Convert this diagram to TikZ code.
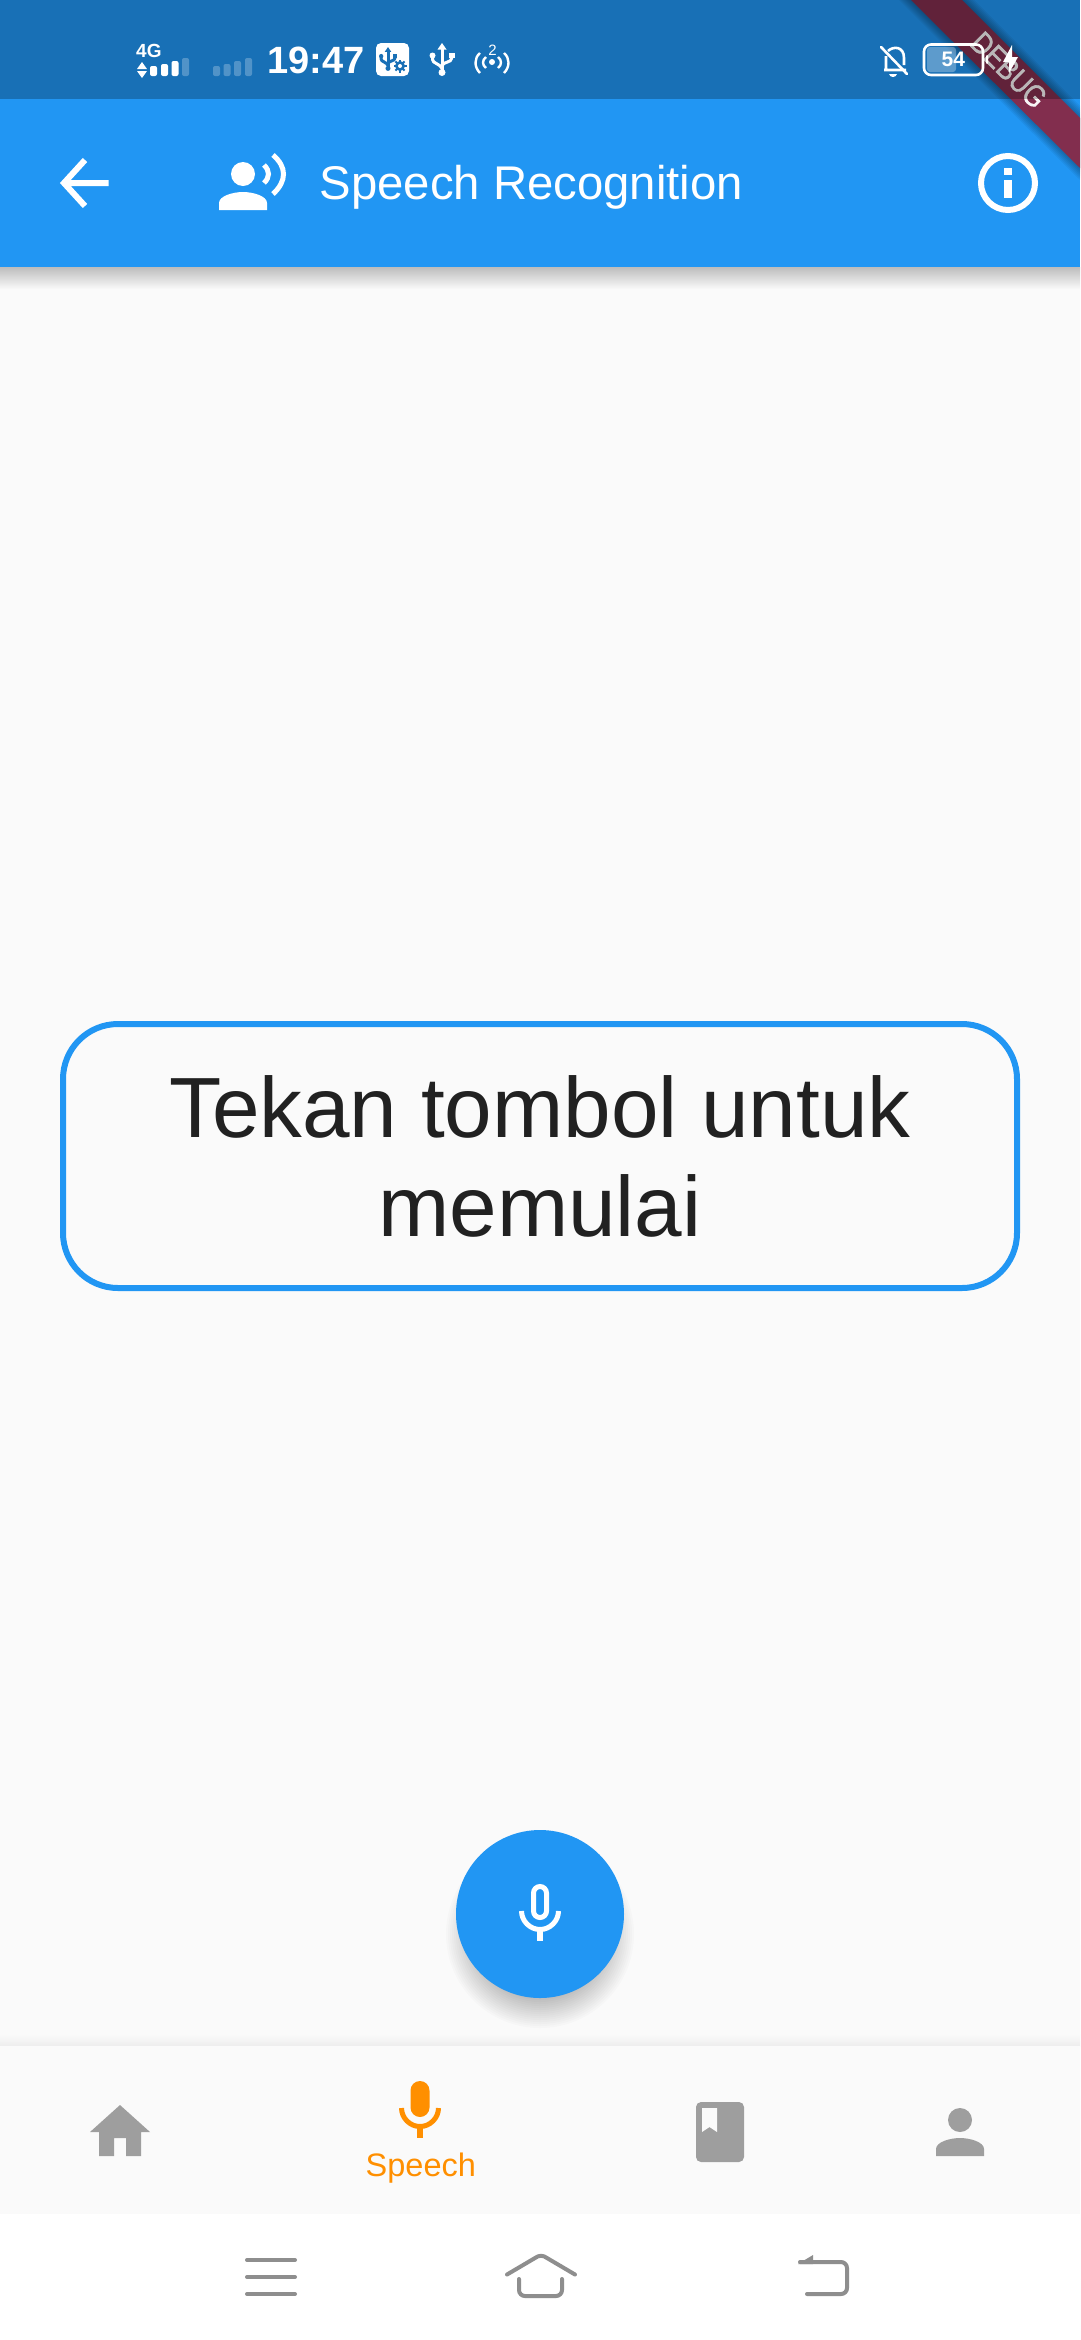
\documentclass[tikz,border=0pt]{standalone}
\usepackage{fontspec}
\setmainfont{Liberation Sans}
\newfontfamily\bannerfont[FakeStretch = 0.84, FakeBold = 1.2]{Liberation Sans}
\usetikzlibrary{arrows.meta}

\definecolor{barblue}{HTML}{2196F3}
\definecolor{bodygrey}{HTML}{FAFAFA}
\definecolor{icongrey}{HTML}{9E9E9E}
\definecolor{softkey}{HTML}{8E8E8E}
\definecolor{activeorange}{HTML}{FF8F00}
\definecolor{msgtext}{HTML}{212121}
\definecolor{bannerred}{RGB}{130, 46, 78}
\definecolor{statusblue}{HTML}{1970B6}

\tikzset{
    textlabel/.style = {inner sep = 0pt, anchor = base west},
    softkeyline/.style = {softkey, line width = 4pt, line cap = round, line join = round},
    personglyph/.pic = {
        \fill (0, -18) circle (12);
        \fill (-24, 18) to (-24, 11) .. controls (-24, 4) and (-10, 0) .. (0, 0)
            .. controls (10, 0) and (24, 4) .. (24, 11) to (24, 18) to cycle;
    },
    micglyph/.pic = {
        \draw[line width = 5pt] (-18.5, -3) .. controls (-18.5, 7) and (-10, 15.5) .. (0, 15.5)
            .. controls (10, 15.5) and (18.5, 7) .. (18.5, -3);
        \draw[line width = 6pt] (0, 15) to (0, 27);
    },
    usbglyph/.pic = {
        \draw[line width = 3pt] (0, -26) to (0, 26);
        \fill (0, -33) to (9, -20) to (-9, -20) to cycle;
        \fill (0, 26) circle (7);
        \fill (-19, -8) circle (6);
        \fill (14, -14) rectangle (25, -3);
        \draw[line width = 3pt] (-19, -8) to (-19, 0) .. controls (-19, 8) and (-4, 8) .. (0, 18);
        \draw[line width = 3pt] (19, -8) to (19, -2) .. controls (19, 6) and (4, 4) .. (0, 12);
    }
}

\begin{document}
\begin{tikzpicture}[%
        x = 1pt,
        y = -1pt,
        font = \fontsize{20}{24}\selectfont
    ]
        \useasboundingbox (0, 0) rectangle (1080, 2340);

        % Paint the background bands of the screen.
        \fill[white] (0, 0) rectangle (1080, 2340);
        \fill[bodygrey] (0, 267) rectangle (1080, 2214);
        \shade[top color = black!26, middle color = black!10, bottom color = bodygrey]
            (0, 267) rectangle (1080, 289);
        \shade[top color = bodygrey, bottom color = black!7] (0, 2034) rectangle (1080, 2046);
        \fill[bodygrey] (0, 2046) rectangle (1080, 2214);
        \fill[barblue] (0, 0) rectangle (1080, 267);

        % App bar with its back arrow, icon, title and info button.
        \begin{scope}[white]
            \draw[line width = 6pt] (85, 160) to (64, 183) to (85, 206) (64, 183) to (108.5, 183);

            \pic[white] at (243, 192) {personglyph};
            \draw[line width = 5pt] (264, 165) .. controls (270, 171) and (270, 177) .. (264, 183);
            \draw[line width = 5pt] (273, 155) .. controls (287, 167) and (287, 181) .. (273, 194);

            \node[textlabel, font = \fontsize{47.3}{48}\selectfont, white] (title) at (319.5, 199) {Speech Recognition};

            \draw[line width = 6pt] (1008, 183) circle (27);
            \fill (1004, 168) rectangle (1012, 175);
            \fill (1004, 180) rectangle (1012, 198);
        \end{scope}

        % Banner across the corner.
        \foreach \W in {2, 4, ..., 12}{%
            \fill[black, opacity = 0.05] (911 - \W, 0) to (962 + \W, 0) to (1080, 118 - \W)
                to (1080, 168 + \W) to cycle;
        }
        \fill[bannerred] (911, 0) to (962, 0) to (1080, 118) to (1080, 168) to cycle;
        \node[inner sep = 0pt, rotate = -45, text = white, text opacity = 0.95,
            font = \fontsize{31}{31}\bannerfont] (banner) at (1009, 70) {DEBUG};

        % The status bar darkens whatever lies below it; its icons come on top.
        \fill[black, opacity = 0.25] (0, 0) rectangle (1080, 99);

        % Status bar, left side.
        \begin{scope}[white]
            \node[textlabel, font = \fontsize{19}{19}\bfseries\selectfont, white] (netlabel) at (136, 57) {4G};
            \fill (142, 62) to (147, 69) to (137, 69) to cycle;
            \fill (142, 78) to (147, 71) to (137, 71) to cycle;

            % Two sets of signal bars; only the first one has any strength.
            \foreach \X/\Ytop/\Alpha in {150/66/1, 161/64/1, 171.5/61/1, 182/58/0.25,
                    213/66/0.25, 223.5/64/0.25, 234/61/0.25, 245/58/0.25}{%
                \fill[opacity = \Alpha, rounded corners = 2pt] (\X, \Ytop) rectangle (\X + 7, 76);
            }

            \node[textlabel, font = \fontsize{38}{38}\bfseries\selectfont, white] (clock) at (267, 73) {19:47};

            % USB settings badge.
            \fill[rounded corners = 5pt] (376, 43) rectangle (409, 76);
            \pic[statusblue, scale = 0.36] at (388, 59) {usbglyph};
            \foreach \A in {0, 45, ..., 315}{%
                \draw[statusblue, line width = 2pt] (400, 66) to ++(\A:6.5);
            }
            \fill[statusblue] (400, 66) circle (5);
            \fill (400, 66) circle (2);

            % USB symbol.
            \pic[white, scale = 0.5] at (442, 59.5) {usbglyph};

            % Hotspot symbol.
            \node[inner sep = 0pt, font = \fontsize{15}{15}\selectfont, white] (hotspot) at (492.5, 50.5) {2};
            \fill (492, 62) circle (3);
            \draw[line width = 2.4pt] (486, 57) .. controls (482, 60) and (482, 65) .. (486, 68);
            \draw[line width = 2.4pt] (498, 57) .. controls (502, 60) and (502, 65) .. (498, 68);
            \draw[line width = 2.4pt] (480, 53) .. controls (474, 58) and (474, 67) .. (480, 73);
            \draw[line width = 2.4pt] (504, 53) .. controls (510, 58) and (510, 67) .. (504, 73);
        \end{scope}

        % Status bar, right side.
        \begin{scope}[white]
            % Muted bell.
            \draw[line width = 2.6pt, line join = round]
                (884, 70) to (906, 70) (886, 70) to (886, 56)
                (888, 51) .. controls (893, 46) and (904, 46) .. (904, 58) to (904, 65);
            \draw[line width = 2.6pt, line cap = round] (881, 47) to (907, 74);
            \fill (889, 74) .. controls (890, 78) and (896, 78) .. (897, 74) to cycle;

            % Battery.
            \fill[opacity = 0.3, rounded corners = 3pt] (927, 47) rectangle (956, 72);
            \draw[line width = 2.6pt, rounded corners = 7pt] (924, 44.5) rectangle (983, 75);
            \fill[rounded corners = 1pt] (986, 55) rectangle (988, 64);
            \node[textlabel, font = \fontsize{21}{21}\bfseries\selectfont, white] (batlevel) at (941.5, 66) {54};

            % Charging bolt.
            \fill (1012, 45) to (1003, 62) to (1009, 62) to (1009, 73) to (1018, 57) to (1012, 57) to cycle;
        \end{scope}

        % Message box in the middle of the screen.
        \node[draw = barblue, line width = 6pt, rounded corners = 55pt, text = msgtext,
            minimum width = 954pt, minimum height = 264pt, inner sep = 0pt, align = center,
            font = \fontsize{85.5}{99}\selectfont] (message) at (540, 1156)
            {Tekan tombol untuk\\memulai};

        % Soft shadow of the round button, built from stacked discs.
        \foreach \R in {66, 68, ..., 94}{%
            \fill[black, opacity = 0.014] (540, 1934) circle (\R);
        }
        \fill[barblue] (540, 1914) circle (84);
        \pic[white] at (540, 1914) {micglyph};
        \draw[white, line width = 5pt, rounded corners = 6.5pt] (533.5, 1886.5) rectangle (546.5, 1917.5);

        % Bottom navigation bar.
        \fill[icongrey] (120, 2105) to (150, 2132) to (141, 2132) to (141, 2156) to (126, 2156)
            to (126, 2138) to (114, 2138) to (114, 2156) to (99, 2156) to (99, 2132)
            to (90, 2132) to cycle;

        \pic[activeorange] at (420, 2111) {micglyph};
        \fill[activeorange, rounded corners = 9.5pt] (410.5, 2081) rectangle (429.5, 2117);
        \node[textlabel, font = \fontsize{32.5}{33}\selectfont, text = activeorange] (navspeech) at (365.5, 2176) {Speech};

        \fill[icongrey, rounded corners = 5pt] (696, 2102) rectangle (744, 2162);
        \fill[bodygrey] (702, 2108) to (717, 2108) to (717, 2132) to (709.5, 2127) to (702, 2132) to cycle;

        \pic[icongrey] at (960, 2138) {personglyph};

        % Soft keys of the phone.
        \foreach \Y in {2260, 2277, 2294}{%
            \draw[softkeyline] (247, \Y) to (295, \Y);
        }
        \draw[softkeyline] (507, 2274.5) to (535, 2258) .. controls (539, 2255) and (543, 2255) .. (547, 2258) to (575, 2274.5);
        \draw[softkeyline, rounded corners = 6pt] (519, 2279) to (519, 2296) to (562, 2296) to (562, 2279);
        \fill[softkey] (798, 2264) to (813, 2255) to (813, 2264) to cycle;
        \draw[softkeyline, rounded corners = 6pt] (800, 2262) to (847, 2262) to (847, 2294) to (807, 2294);

    \end{tikzpicture}
\end{document}
